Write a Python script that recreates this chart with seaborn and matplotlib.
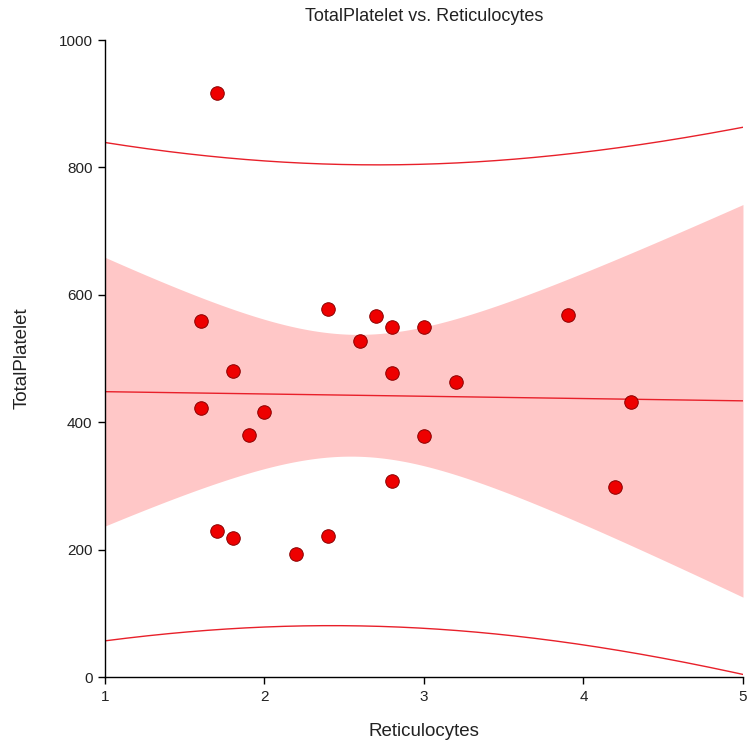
import numpy as np
import pandas as pd
import matplotlib
matplotlib.use("Agg")
import matplotlib.pyplot as plt
import seaborn as sns

# Data
reticulocytes = [1.7, 1.6, 1.8, 1.6, 2.0, 1.9, 1.7, 1.8, 2.2, 2.4, 2.4,
                 2.7, 2.8, 3.0, 2.6, 2.8, 3.2, 3.0, 2.8, 3.9, 4.3, 4.2]
total_platelet = [917, 559, 481, 422, 416, 380, 229, 218, 193, 222, 578,
                  566, 549, 549, 527, 478, 463, 379, 308, 568, 431, 298]
x_ticks = [1, 2, 3, 4, 5]
y_ticks = [0, 200, 400, 600, 800, 1000]

df = pd.DataFrame({"Reticulocytes": reticulocytes, "TotalPlatelet": total_platelet})

# OLS fit with Working-Hotelling confidence band and 95% prediction interval
x = np.asarray(reticulocytes, float)
y = np.asarray(total_platelet, float)
n = len(x)
b1, b0 = np.polyfit(x, y, 1)
resid = y - (b0 + b1 * x)
s = np.sqrt(np.sum(resid ** 2) / (n - 2))
sxx = np.sum((x - x.mean()) ** 2)
t_crit = 2.0860      # t(0.975, 20)
f_crit = 3.4928      # F(0.95, 2, 20)
W = np.sqrt(2 * f_crit)
xs = np.linspace(1, 5, 300)
yhat = b0 + b1 * xs
se_fit = s * np.sqrt(1 / n + (xs - x.mean()) ** 2 / sxx)
se_pred = s * np.sqrt(1 + 1 / n + (xs - x.mean()) ** 2 / sxx)
fit_df = pd.DataFrame({"x": xs, "fit": yhat,
                       "ci_lo": yhat - W * se_fit, "ci_hi": yhat + W * se_fit,
                       "pi_lo": yhat - t_crit * se_pred, "pi_hi": yhat + t_crit * se_pred})

sns.set_style("ticks")
plt.rcParams["font.family"] = ["Liberation Sans", "DejaVu Sans"]

fig = plt.figure(figsize=(7.51, 7.48), dpi=100)
ax = fig.add_axes([0.1398, 0.0949, 0.8495, 0.8516])

ax.fill_between(fit_df["x"], fit_df["ci_lo"], fit_df["ci_hi"],
                color="#ffc4c4", alpha=0.95, linewidth=0, zorder=1)
sns.lineplot(data=fit_df, x="x", y="fit", color="#e8202a", linewidth=1.0, ax=ax, zorder=2)
sns.lineplot(data=fit_df, x="x", y="pi_hi", color="#e8202a", linewidth=1.0, ax=ax, zorder=2)
sns.lineplot(data=fit_df, x="x", y="pi_lo", color="#e8202a", linewidth=1.0, ax=ax, zorder=2)
sns.scatterplot(data=df, x="Reticulocytes", y="TotalPlatelet", s=95,
                color="#ee0000", edgecolor="#8a0000", linewidth=0.7, ax=ax, zorder=3)

ax.set_xlim(1, 5)
ax.set_ylim(0, 1000)
ax.set_xticks(x_ticks)
ax.set_xticklabels([str(v) for v in x_ticks])
ax.set_yticks(y_ticks)
ax.set_yticklabels([str(v) for v in y_ticks])
ax.tick_params(axis="both", labelsize=11, length=5, width=1, color="black",
               labelcolor="#222222", pad=4)
ax.set_xlabel("Reticulocytes", fontsize=13.5, labelpad=14, color="#222222")
ax.set_ylabel("TotalPlatelet", fontsize=13.5, labelpad=20, color="#222222")
ax.set_title("TotalPlatelet vs. Reticulocytes", fontsize=13, pad=14, color="#222222")
for sp in ["left", "bottom"]:
    ax.spines[sp].set_color("black")
    ax.spines[sp].set_linewidth(1)
sns.despine(ax=ax)

fig.savefig("out.png", dpi=100)
